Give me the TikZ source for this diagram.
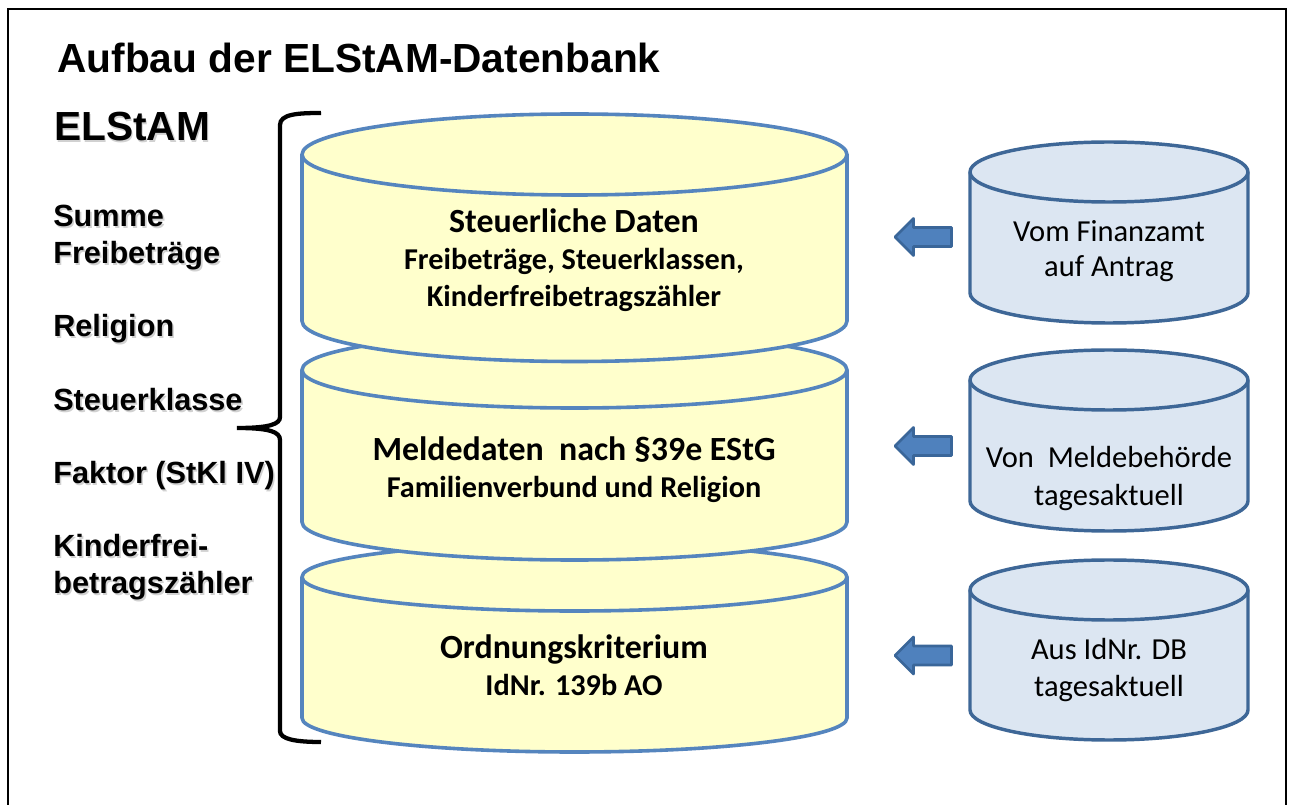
\documentclass[tikz,border=0pt]{standalone}
\usepackage{fontspec}
\setmainfont{Carlito}
\newfontfamily\arialf{Liberation Sans}[BoldFont={Liberation Sans Bold}]
\definecolor{dbfill}{HTML}{FFFFCC}
\definecolor{dbline}{HTML}{5585BE}
\definecolor{srcfill}{HTML}{DCE6F2}
\definecolor{srcline}{HTML}{3E6797}
\definecolor{arrfill}{HTML}{4F81BD}
\definecolor{arrline}{HTML}{3A6699}
\newcommand\shadowed[1]{\leavevmode\rlap{\kern1.2pt\raisebox{-1.2pt}{\textcolor{black!18}{#1}}}#1}
\newcommand\dbcyl[6]{% style, left, right, top centre y, bottom side y, ry
  \filldraw[#1] (#2,#4) -- (#2,#5) arc[start angle=180,end angle=0,x radius={(#3-#2)/2},y radius=#6] -- (#3,#4) arc[start angle=360,end angle=180,x radius={(#3-#2)/2},y radius=#6] -- cycle;
  \draw[#1,fill=none] (#2,#4) arc[start angle=180,end angle=0,x radius={(#3-#2)/2},y radius=#6];
}
\newcommand\leftarr[1]{\filldraw[flow] (951.5,#1-9.5) -- (913.5,#1-9.5) -- (913.5,#1-18.5) -- (895,#1) -- (913.5,#1+18.5) -- (913.5,#1+9.5) -- (951.5,#1+9.5) -- cycle;}
\tikzset{
  layer/.style={draw=dbline,fill=dbfill,line width=2.7pt,line join=round},
  source/.style={draw=srcline,fill=srcfill,line width=2.6pt,line join=round},
  flow/.style={draw=arrline,fill=arrfill,line width=2.1pt,line join=round},
  head/.style={anchor=base,inner sep=0pt,font=\bfseries\fontsize{25.4}{25.4}\selectfont},
  sub/.style={anchor=base,inner sep=0pt,font=\bfseries\fontsize{22.7}{22.7}\selectfont},
  srctxt/.style={anchor=base,inner sep=0pt,font=\fontsize{22.9}{22.9}\selectfont},
  side/.style={anchor=base west,inner sep=0pt,font=\arialf\bfseries\fontsize{23}{23}\selectfont},
}
\begin{document}
\begin{tikzpicture}[x=0.75pt,y=-0.75pt]
\useasboundingbox (0,0) rectangle (1290,805);
\fill[white] (0,0) rectangle (1290,805);
\draw[black,line width=1.5pt] (8,805) -- (8,9) -- (1286,9) -- (1286,805);
\node[anchor=base west,inner sep=0pt,font=\arialf\bfseries\fontsize{30.5}{30.5}\selectfont] (title) at (57,72.5) {Aufbau der ELStAM-Datenbank};
\node[anchor=base west,inner sep=0pt,font=\arialf\bfseries\fontsize{30.5}{30.5}\selectfont] (elstam) at (54,140.5) {\shadowed{ELStAM}};
\node[side] (s1) at (53,227) {\shadowed{Summe}};
\node[side] (s2) at (53,264) {\shadowed{Freibeträge}};
\node[side] (s3) at (53,337) {\shadowed{Religion}};
\node[side] (s4) at (53,411) {\shadowed{Steuerklasse}};
\node[side] (s5) at (53,484) {\shadowed{Faktor (StKl IV)}};
\node[side] (s6) at (53,557) {\shadowed{Kinderfrei-}};
\node[side] (s7) at (53,593.5) {\shadowed{betragszähler}};
\draw[black,line width=3.2pt] (321,113) .. controls (298,113) and (280,114) .. (280,125) -- (280,417) .. controls (280,424) and (270,428) .. (237,428) .. controls (270,428) and (280,432) .. (280,440) -- (280,731) .. controls (280,739) and (295,742) .. (321,742);
\dbcyl{layer}{302}{847}{577}{718}{34}
\dbcyl{layer}{302}{847}{370}{522}{38}
\dbcyl{layer}{302}{847}{154.5}{321}{40.5}
\dbcyl{source}{970}{1248}{172}{293}{30}
\dbcyl{source}{970}{1248}{380}{501}{30}
\dbcyl{source}{970}{1248}{590}{710}{30}
\leftarr{237}
\leftarr{446}
\leftarr{655.5}
\node[head] (a1) at (574,232.5) {Steuerliche Daten};
\node[sub] (a2) at (574,269.5) {Freibeträge, Steuerklassen,};
\node[sub] (a3) at (574,306.5) {Kinderfreibetragszähler};
\node[head] (b1) at (574,460.5) {Meldedaten\ \ nach §39e EStG};
\node[sub] (b2) at (574,497.5) {Familienverbund und Religion};
\node[head] (c1) at (574,658.5) {Ordnungskriterium};
\node[sub] (c2) at (574,695.5) {IdNr. 139b AO};
\node[srctxt] (d1) at (1109,242) {Vom Finanzamt};
\node[srctxt] (d2) at (1109,277) {auf Antrag};
\node[srctxt] (e1) at (1109,468) {Von\ \ Meldebehörde};
\node[srctxt] (e2) at (1109,506) {tagesaktuell};
\node[srctxt] (f1) at (1109,660) {Aus IdNr. DB};
\node[srctxt] (f2) at (1109,696) {tagesaktuell};
\end{tikzpicture}
\end{document}
